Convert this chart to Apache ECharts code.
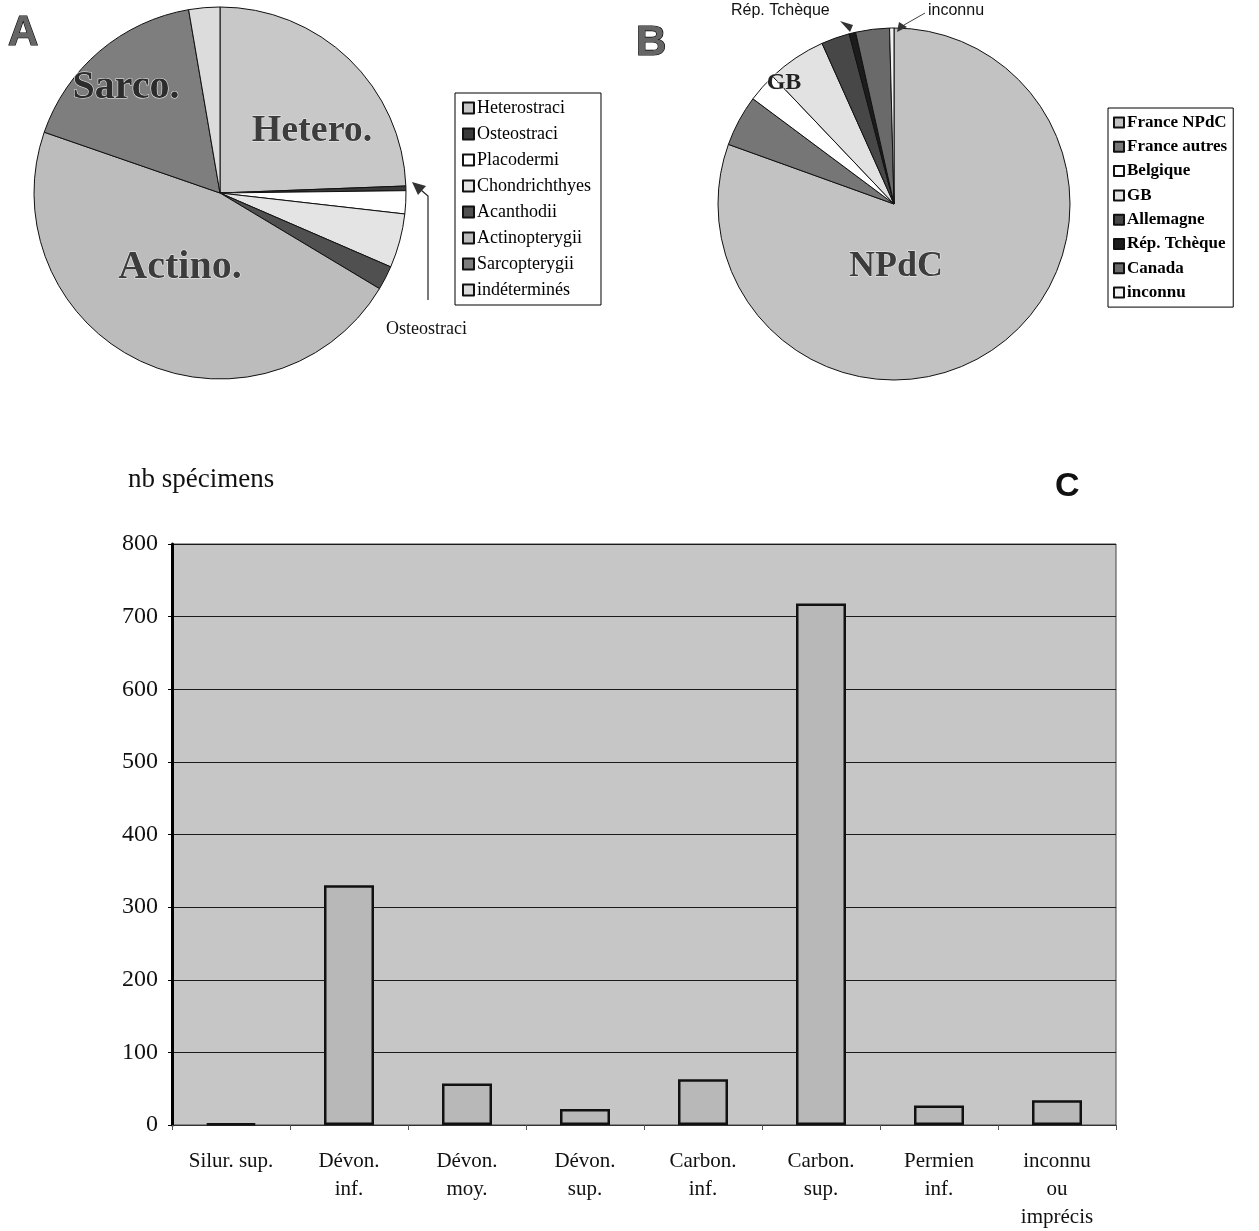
<!DOCTYPE html>
<html><head><meta charset="utf-8">
<script src="https://cdn.jsdelivr.net/npm/echarts@6/dist/echarts.min.js"></script>
<style>html,body{margin:0;padding:0;background:#fff}#c{width:1259px;height:1231px}</style>
</head><body><div id="c"></div>
<script>
// ---- data ----
const taxa = ['Heterostraci','Osteostraci','Placodermi','Chondrichthyes','Acanthodii','Actinopterygii','Sarcopterygii','indéterminés'];
const taxaValues = [24.4, 0.4, 2.0, 4.7, 2.1, 46.7, 17.0, 2.7];
const countries = ['France NPdC','France autres','Belgique','GB','Allemagne','Rép. Tchèque','Canada','inconnu'];
const countryValues = [80.5, 4.7, 2.7, 5.4, 2.6, 0.6, 3.1, 0.4];
const periods = ['Silur. sup.','Dévon.\ninf.','Dévon.\nmoy.','Dévon.\nsup.','Carbon.\ninf.','Carbon.\nsup.','Permien\ninf.','inconnu\nou\nimprécis'];
const specimens = [2, 330, 57, 22, 63, 718, 27, 34];
const yMin = 0, yMax = 800, yStep = 100;

// ---- styles ----
const taxaColors = ['#c8c8c8','#3a3a3a','#ffffff','#e4e4e4','#505050','#bcbcbc','#7e7e7e','#dcdcdc'];
const countryColors = ['#c2c2c2','#767676','#ffffff','#e2e2e2','#474747','#1c1c1c','#6a6a6a','#f2f2f2'];
const serif = '"Liberation Serif", "DejaVu Serif", serif';
const sans = '"Liberation Sans", Arial, sans-serif';

const chart = echarts.init(document.getElementById('c'), null, {renderer:'canvas'});

function pieData(names, vals, cols){
  return names.map((n,i)=>({name:n, value:vals[i], itemStyle:{color:cols[i]}}));
}

const bigLabel = (text, x, y, size, color) => ({
  type:'text', x:x, y:y, z:50,
  style:{text:text, font:'bold '+size+'px '+serif, fill:color||'#3c3c3c',
         stroke:'#eeeeee', lineWidth:1, textAlign:'center', textVerticalAlign:'middle'}
});

chart.setOption({
  animation:false,
  backgroundColor:'#ffffff',
  legend:[
    {data:taxa, orient:'vertical', left:455, top:93, padding:[6,10,6,7],
     itemGap:8, itemWidth:11, itemHeight:11, icon:'rect',
     borderColor:'#000', borderWidth:1, selectedMode:false,
     textStyle:{fontFamily:serif, fontSize:18, color:'#000', padding:[0,0,0,-2]}},
    {data:countries, orient:'vertical', left:1108, top:108, padding:[6,6,6,5],
     itemGap:7.3, itemWidth:10, itemHeight:10, icon:'rect',
     borderColor:'#000', borderWidth:1, selectedMode:false,
     textStyle:{fontFamily:serif, fontSize:17, fontWeight:'bold', color:'#000', padding:[0,0,0,-2]}}
  ],
  grid:{left:172, right:143, top:544, bottom:105, show:true,
        backgroundColor:'#c6c6c6', borderColor:'#444', borderWidth:1},
  xAxis:{type:'category', data:periods,
    axisLine:{lineStyle:{color:'#333', width:1}},
    axisTick:{show:true, length:5, lineStyle:{color:'#555'}},
    axisLabel:{fontFamily:serif, fontSize:21, color:'#111', margin:22, lineHeight:28, interval:0}},
  yAxis:{type:'value', min:yMin, max:yMax, interval:yStep,
    axisLine:{show:true, lineStyle:{color:'#000', width:3}},
    axisTick:{show:true, length:4, lineStyle:{color:'#000'}},
    splitLine:{lineStyle:{color:'#1a1a1a', width:1}},
    axisLabel:{fontFamily:serif, fontSize:24, color:'#111', margin:14}},
  series:[
    {type:'bar', data:specimens, barWidth:50,
     itemStyle:{color:'#b8b8b8', borderColor:'#111', borderWidth:2.5}},
    {type:'pie', name:'A', center:[220,193], radius:186, startAngle:90, clockwise:true,
     data:pieData(taxa, taxaValues, taxaColors), label:{show:false}, labelLine:{show:false},
     itemStyle:{borderColor:'#111', borderWidth:1}, silent:true},
    {type:'pie', name:'B', center:[894,204], radius:176, startAngle:90, clockwise:true,
     data:pieData(countries, countryValues, countryColors), label:{show:false}, labelLine:{show:false},
     itemStyle:{borderColor:'#111', borderWidth:1}, silent:true}
  ],
  graphic:[
    {type:'text', x:8, y:12, style:{text:'A', font:'bold 42px '+sans, fill:'#666', stroke:'#000', lineWidth:1.2}},
    {type:'text', x:636, y:22, style:{text:'B', font:'bold 42px '+sans, fill:'#666', stroke:'#000', lineWidth:1.2}},
    {type:'text', x:1055, y:470, style:{text:'C', font:'bold 34px '+sans, fill:'#111'}},
    {type:'text', x:128, y:466, style:{text:'nb spécimens', font:'27px '+serif, fill:'#111'}},
    bigLabel('Hetero.', 312, 131, 38),
    bigLabel('Actino.', 180, 268, 40),
    bigLabel('Sarco.', 126, 88, 40, '#2c2c2c'),
    bigLabel('GB', 784, 83, 24, '#222'),
    bigLabel('NPdC', 896, 267, 36),
    // Osteostraci callout
    {type:'polyline', z:60, shape:{points:[[428,300],[428,196],[421,190]]}, style:{stroke:'#222', lineWidth:1.2, fill:null}},
    {type:'polygon', z:60, shape:{points:[[412,182],[426,186],[418,195]]}, style:{fill:'#333'}},
    {type:'text', x:386, y:320, style:{text:'Osteostraci', font:'18px '+serif, fill:'#111'}},
    // Rép. Tchèque callout
    {type:'text', x:731, y:3, style:{text:'Rép. Tchèque', font:'16px '+sans, fill:'#111'}},
    {type:'polygon', z:60, shape:{points:[[840,21],[853,25],[850,32]]}, style:{fill:'#333'}},
    // inconnu callout
    {type:'text', x:928, y:3, style:{text:'inconnu', font:'16px '+sans, fill:'#111'}},
    {type:'line', z:60, shape:{x1:904, y1:25, x2:925, y2:13}, style:{stroke:'#444', lineWidth:1}},
    {type:'polygon', z:60, shape:{points:[[897,32],[899,22],[907,27]]}, style:{fill:'#333'}}
  ]
});
</script></body></html>
